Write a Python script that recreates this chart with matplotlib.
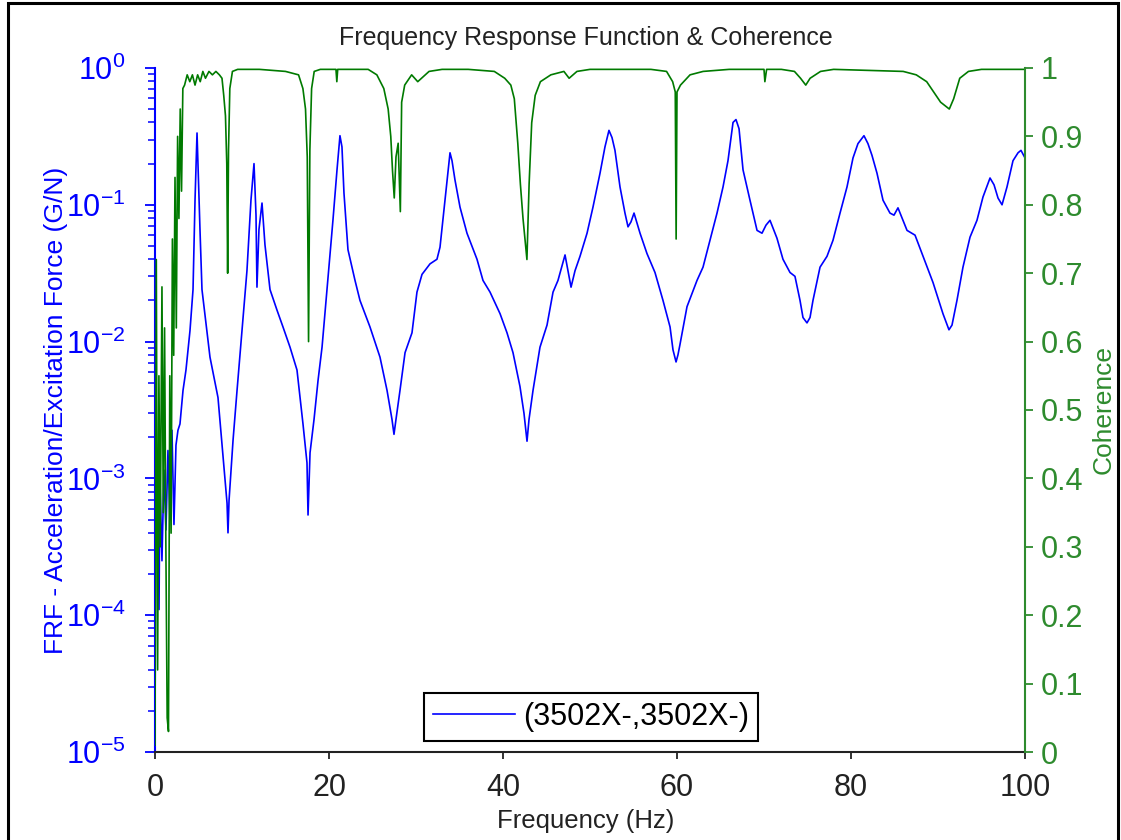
import matplotlib
matplotlib.use('Agg')
import matplotlib.pyplot as plt
from matplotlib.patches import Rectangle
from matplotlib.ticker import LogLocator, FixedLocator, FixedFormatter, NullFormatter

plt.rcParams['font.family'] = ['Liberation Sans', 'DejaVu Sans']
plt.rcParams['mathtext.fontset'] = 'custom'
plt.rcParams['mathtext.rm'] = 'Liberation Sans'
plt.rcParams['mathtext.it'] = 'Liberation Sans:italic'
plt.rcParams['mathtext.bf'] = 'Liberation Sans:bold'

# FRF magnitude (G/N)
frf_freq = [0.0, 0.06, 0.11, 0.23, 0.34, 0.46, 0.57, 0.80, 1.03, 1.26, 1.49, 1.72, 1.95, 2.18,
            2.41, 2.64, 2.87, 3.22, 3.56, 4.02, 4.37, 4.60, 4.83, 5.17, 5.40, 6.32, 7.24, 7.82,
            8.28, 8.39, 8.51, 8.97, 9.43, 10.0, 10.57, 11.03, 11.38, 11.61, 11.72, 11.95, 12.30,
            12.64, 13.22, 14.02, 14.71, 15.52, 16.32, 17.01, 17.47, 17.59, 17.82, 18.28, 18.74,
            19.20, 19.77, 20.46, 20.92, 21.26, 21.49, 21.72, 22.18, 22.99, 23.56, 24.71, 25.86,
            26.67, 27.24, 27.47, 27.70, 28.16, 28.74, 29.54, 30.11, 30.69, 31.61, 32.41, 32.76,
            33.33, 33.91, 34.14, 34.48, 35.06, 35.86, 37.01, 37.70, 38.51, 39.66, 40.46, 41.15,
            41.95, 42.41, 42.76, 42.99, 43.45, 44.25, 45.06, 45.75, 46.32, 46.90, 47.13, 47.47,
            47.82, 48.28, 48.85, 49.66, 50.34, 51.15, 51.72, 52.18, 52.53, 52.87, 53.45, 54.02,
            54.37, 54.71, 55.06, 55.75, 56.55, 57.47, 58.39, 59.20, 59.54, 59.89, 60.11, 60.34,
            61.15, 62.30, 62.99, 63.79, 64.60, 65.29, 65.86, 66.44, 66.78, 67.13, 67.59, 68.39,
            69.20, 69.77, 70.23, 70.69, 71.49, 72.18, 72.99, 73.56, 74.14, 74.48, 74.94, 75.29,
            75.63, 76.44, 77.24, 77.93, 78.74, 79.54, 80.23, 80.80, 81.49, 81.95, 82.41, 82.99,
            83.68, 84.48, 84.94, 85.40, 85.98, 86.44, 87.36, 88.28, 89.43, 90.57, 91.26, 91.61,
            92.18, 92.87, 93.68, 94.48, 95.17, 95.98, 96.44, 96.90, 97.36, 97.93, 98.62, 99.20,
            99.54, 100.0]
frf_mag = [1.0e-5, 2.5e-4, 3.7e-3, 3.5e-4, 1.15e-3, 1.1e-4, 9.8e-4, 2.5e-4, 1.15e-3, 4.2e-4,
           1.6e-3, 5.0e-4, 2.25e-3, 4.6e-4, 1.75e-3, 2.25e-3, 2.5e-3, 4.4e-3, 6.2e-3, 1.2e-2,
           2.4e-2, 0.108, 0.335, 0.066, 0.024, 7.7e-3, 3.9e-3, 1.44e-3, 6.6e-4, 4.0e-4, 6.9e-4,
           1.9e-3, 4.4e-3, 1.2e-2, 3.3e-2, 0.108, 0.20, 0.084, 0.025, 0.066, 0.103, 0.051, 0.024,
           0.017, 0.0128, 9.1e-3, 6.2e-3, 2.5e-3, 1.3e-3, 5.4e-4, 1.54e-3, 2.7e-3, 5.2e-3, 9.1e-3,
           0.024, 0.078, 0.18, 0.32, 0.265, 0.122, 0.047, 0.028, 0.020, 0.0128, 7.7e-3, 4.4e-3,
           2.7e-3, 2.1e-3, 2.7e-3, 4.4e-3, 8.3e-3, 0.0116, 0.023, 0.031, 0.037, 0.040, 0.049,
           0.108, 0.24, 0.21, 0.152, 0.096, 0.062, 0.040, 0.028, 0.023, 0.016, 0.0116, 8.3e-3,
           4.7e-3, 3.0e-3, 1.87e-3, 2.7e-3, 4.4e-3, 9.1e-3, 0.0132, 0.023, 0.028, 0.038, 0.043,
           0.033, 0.025, 0.033, 0.042, 0.062, 0.096, 0.17, 0.265, 0.35, 0.31, 0.25, 0.135, 0.087,
           0.069, 0.075, 0.087, 0.062, 0.044, 0.032, 0.020, 0.0128, 8.7e-3, 7.1e-3, 8.0e-3, 9.5e-3,
           0.018, 0.028, 0.035, 0.055, 0.087, 0.135, 0.21, 0.40, 0.42, 0.36, 0.18, 0.108, 0.065,
           0.062, 0.071, 0.077, 0.057, 0.040, 0.032, 0.030, 0.020, 0.015, 0.0137, 0.015, 0.020,
           0.035, 0.042, 0.055, 0.087, 0.135, 0.22, 0.28, 0.32, 0.28, 0.23, 0.17, 0.108, 0.087,
           0.084, 0.095, 0.077, 0.065, 0.060, 0.042, 0.027, 0.016, 0.0122, 0.0132, 0.020, 0.035,
           0.058, 0.077, 0.114, 0.157, 0.14, 0.112, 0.10, 0.135, 0.21, 0.24, 0.25, 0.22]

# coherence
coh_freq = [0.0, 0.15, 0.3, 0.45, 0.6, 0.8, 0.95, 1.1, 1.25, 1.4, 1.55, 1.7, 1.85, 2.0, 2.15,
            2.3, 2.45, 2.6, 2.75, 2.9, 3.05, 3.2, 3.4, 3.7, 4.0, 4.3, 4.6, 4.9, 5.2, 5.5, 5.8,
            6.2, 6.6, 7.0, 7.4, 7.7, 7.9, 8.1, 8.25, 8.35, 8.45, 8.6, 8.9, 9.5, 12.0, 15.0, 16.5,
            17.0, 17.3, 17.5, 17.65, 17.8, 18.0, 18.3, 19.0, 20.8, 20.9, 21.0, 24.5, 25.5, 26.3,
            26.8, 27.1, 27.3, 27.5, 27.7, 27.95, 28.2, 28.35, 28.7, 29.5, 30.2, 31.5, 33.0, 36.0,
            39.0, 40.2, 40.9, 41.3, 41.7, 42.0, 42.3, 42.75, 43.0, 43.3, 43.7, 44.3, 45.5, 47.0,
            47.6, 48.5, 50.0, 55.0, 57.0, 58.8, 59.5, 59.8, 59.9, 60.0, 60.4, 61.5, 63.0, 66.0,
            70.0, 70.1, 70.3, 72.0, 73.5, 74.2, 74.8, 75.3, 76.5, 78.0, 86.0, 87.5, 88.7, 89.5,
            90.3, 91.3, 91.8, 92.5, 93.5, 95.0, 100.0]
coh_val = [0.01, 0.72, 0.12, 0.55, 0.30, 0.68, 0.35, 0.62, 0.30, 0.05, 0.03, 0.55, 0.32, 0.75,
           0.58, 0.84, 0.62, 0.90, 0.78, 0.94, 0.82, 0.97, 0.975, 0.99, 0.98, 0.99, 0.975, 0.99,
           0.98, 0.995, 0.985, 0.995, 0.99, 0.995, 0.99, 0.985, 0.96, 0.93, 0.86, 0.70, 0.88,
           0.97, 0.995, 0.998, 0.998, 0.995, 0.99, 0.97, 0.94, 0.87, 0.60, 0.88, 0.97, 0.995,
           0.998, 0.998, 0.98, 0.998, 0.998, 0.99, 0.97, 0.94, 0.90, 0.85, 0.81, 0.87, 0.89, 0.79,
           0.95, 0.975, 0.99, 0.98, 0.995, 0.998, 0.998, 0.995, 0.985, 0.975, 0.955, 0.89, 0.83,
           0.78, 0.72, 0.83, 0.92, 0.96, 0.98, 0.99, 0.995, 0.985, 0.995, 0.998, 0.998, 0.998,
           0.995, 0.98, 0.965, 0.75, 0.965, 0.975, 0.99, 0.995, 0.998, 0.998, 0.98, 0.998, 0.998,
           0.995, 0.985, 0.975, 0.985, 0.995, 0.998, 0.995, 0.99, 0.98, 0.965, 0.95, 0.94, 0.955,
           0.985, 0.995, 0.998, 0.998]

x_ticks = [0, 20, 40, 60, 80, 100]
coh_ticks = [0, 0.1, 0.2, 0.3, 0.4, 0.5, 0.6, 0.7, 0.8, 0.9, 1]
coh_labels = ['0', '0.1', '0.2', '0.3', '0.4', '0.5', '0.6', '0.7', '0.8', '0.9', '1']

blue = '#0000ff'
green_line = '#007a00'
green_axis = '#2e8b2e'

fig = plt.figure(figsize=(11.21, 8.4), dpi=100)
ax = fig.add_axes([0.13827, 0.10476, 0.77609, 0.81429])
ax2 = ax.twinx()

ax.plot(frf_freq, frf_mag, color=blue, lw=1.2, label='(3502X-,3502X-)')
ax2.plot(coh_freq, coh_val, color=green_line, lw=1.2)

ax.set_yscale('log')
ax.set_ylim(1e-5, 1)
ax.set_xlim(0, 100)
ax2.set_ylim(0, 1)

ax.yaxis.set_major_locator(LogLocator(base=10, numticks=10))
ax.yaxis.set_minor_locator(LogLocator(base=10, subs=range(2, 10), numticks=100))
ax.yaxis.set_minor_formatter(NullFormatter())
ax.xaxis.set_major_locator(FixedLocator(x_ticks))
ax2.yaxis.set_major_locator(FixedLocator(coh_ticks))
ax2.yaxis.set_major_formatter(FixedFormatter(coh_labels))

for s in ['top', 'right']:
    ax.spines[s].set_visible(False)
for s in ['top', 'left', 'bottom']:
    ax2.spines[s].set_visible(False)
ax.spines['left'].set_color(blue)
ax.spines['left'].set_linewidth(1.5)
ax.spines['bottom'].set_color('#222222')
ax.spines['bottom'].set_linewidth(1.5)
ax2.spines['right'].set_color(green_axis)
ax2.spines['right'].set_linewidth(1.5)

ax.tick_params(axis='y', which='major', direction='out', length=7, width=1.3,
               color=blue, labelcolor=blue, labelsize=22, pad=14)
ax.tick_params(axis='y', which='minor', direction='out', length=5, width=1.1, color=blue)
ax.tick_params(axis='x', direction='out', length=5, width=1.3, color='#222222',
               labelcolor='#222222', labelsize=22, pad=10)
ax2.tick_params(axis='y', direction='out', length=6, width=1.3, color=green_axis,
                labelcolor=green_axis, labelsize=22, pad=5)

ax.set_xlabel('Frequency (Hz)', fontsize=18.5, color='#222222')
ax.xaxis.set_label_coords(0.495, -0.083)
ax.set_ylabel('FRF - Acceleration/Excitation Force (G/N)', fontsize=19, color=blue)
ax.yaxis.set_label_coords(-0.10, 0.5)
ax2.set_ylabel('Coherence', fontsize=19, color=green_axis)
ax2.yaxis.set_label_coords(1.077, 0.5)

fig.text(0.5228, 0.946, 'Frequency Response Function & Coherence', fontsize=18,
         color='#222222', ha='center', va='baseline')

leg = ax.legend(loc='lower center', bbox_to_anchor=(0.501, 0.0), fontsize=22,
                fancybox=False, shadow=False, framealpha=1, edgecolor='black',
                handlelength=2.7, handletextpad=0.25, borderpad=0.3, borderaxespad=0.35)
leg.get_frame().set_linewidth(1.5)
leg.set_zorder(10)

fig.patches.append(Rectangle((8 / 1121, -0.01), 1110 / 1121, 1.0064, transform=fig.transFigure,
                             fill=False, edgecolor='black', linewidth=2.2))

fig.savefig('out.png', dpi=100)
